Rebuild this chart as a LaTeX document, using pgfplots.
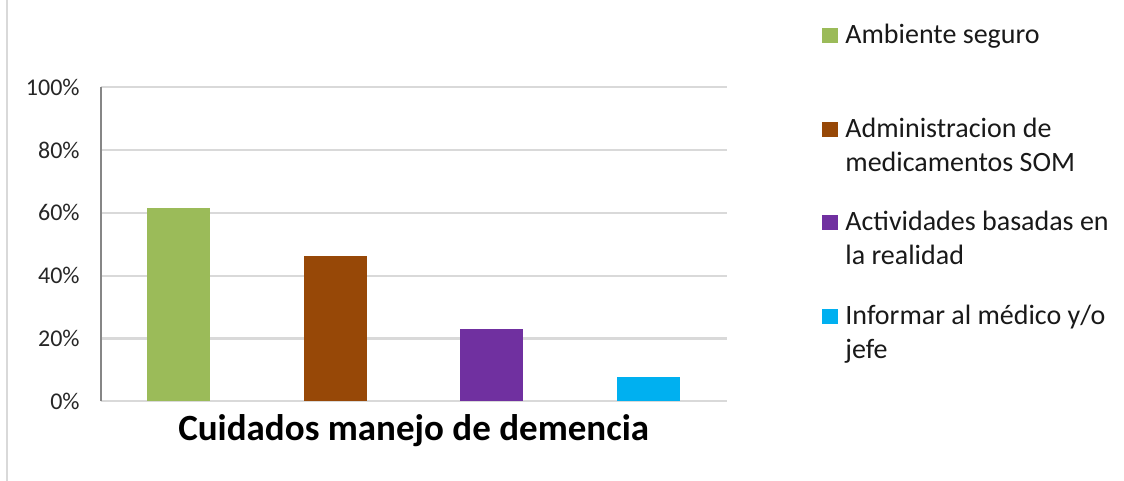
\documentclass[border=0pt]{standalone}
\usepackage{fontspec}
\setmainfont{Carlito}
\usepackage{pgfplots}
\pgfplotsset{compat=1.18}
\definecolor{gridc}{RGB}{217,217,217}
\definecolor{axisc}{RGB}{134,134,134}
\definecolor{cgreen}{RGB}{155,187,89}
\definecolor{cbrown}{RGB}{151,72,7}
\definecolor{cpurple}{RGB}{112,48,160}
\definecolor{cblue}{RGB}{0,176,240}
\begin{document}
\begin{tikzpicture}
\useasboundingbox (-50.35pt,-39.85pt) rectangle (511.65pt,200.65pt);
% outer chart frame (left edge only visible)
\draw[gridc, line width=1pt] (-46.6pt,-39.85pt) -- (-46.6pt,200.65pt);
\begin{axis}[
  scale only axis, width=313pt, height=157pt,
  xmin=-0.5, xmax=3.5, ymin=0, ymax=100,
  ybar, bar width=31.5pt, bar shift=0pt,
  xtick=\empty, ytick={0,20,...,100},
  yticklabel={\pgfmathprintnumber{\tick}\%},
  /pgf/number format/assume math mode=true,
  yticklabel style={font=\fontsize{12}{14}\selectfont, text=black!85, xshift=-7pt},
  major tick length=0pt,
  ymajorgrids, grid style={gridc, line width=1.1pt},
  axis lines*=left,
  x axis line style={gridc, line width=1.1pt, -},
  y axis line style={axisc, line width=1pt, -},
  clip=false]
\addplot[fill=cgreen, draw=none] coordinates {(0,61.5)};
\addplot[fill=cbrown, draw=none] coordinates {(1,46.2)};
\addplot[fill=cpurple, draw=none] coordinates {(2,23.1)};
\addplot[fill=cblue, draw=none] coordinates {(3,7.7)};
\end{axis}
% title below the plot
\node[font=\bfseries\fontsize{18.5}{22}\selectfont, anchor=base] at (156.5pt,-19.85pt) {Cuidados manejo de demencia};
% legend
\begin{scope}[every node/.style={font=\fontsize{14}{17}\selectfont, anchor=base west, inner sep=0pt, text=black!90}]
\fill[cgreen]  (360.5pt,178.9pt) rectangle ++(8pt,7.6pt);
\node at (372.15pt,178.65pt) {Ambiente seguro};
\fill[cbrown]  (360.5pt,132.1pt) rectangle ++(8pt,7.6pt);
\node at (372.15pt,131.8pt) {Administracion de};
\node at (372.15pt,114.8pt) {medicamentos SOM};
\fill[cpurple] (360.5pt,85.4pt) rectangle ++(8pt,7.6pt);
\node at (372.15pt,85.15pt) {Actividades basadas en};
\node at (372.15pt,68.15pt) {la realidad};
\fill[cblue]   (360.5pt,38.7pt) rectangle ++(8pt,7.6pt);
\node at (372.15pt,38.5pt) {Informar al médico y/o};
\node at (372.15pt,21.5pt) {jefe};
\end{scope}
\end{tikzpicture}
\end{document}
